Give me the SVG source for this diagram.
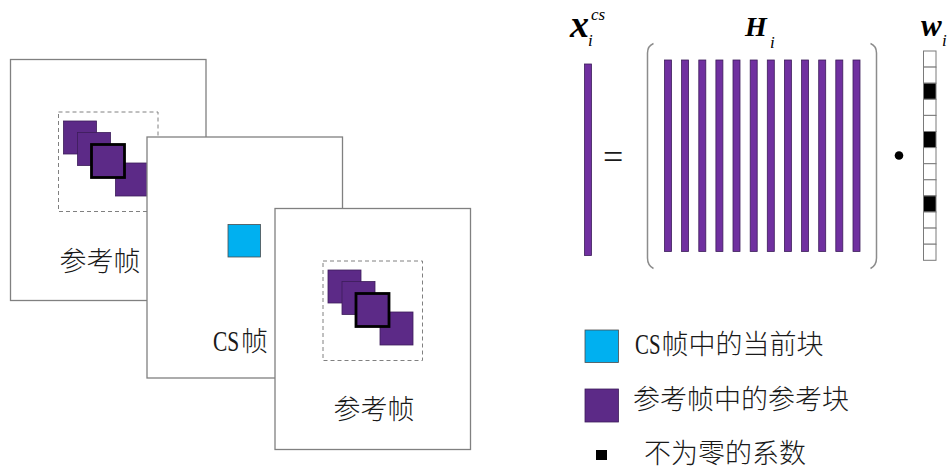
<svg xmlns="http://www.w3.org/2000/svg" width="948" height="469" viewBox="0 0 948 469">
  <style>
    .frame { fill: #ffffff; stroke: #808080; stroke-width: 1.3; }
    .search { fill: none; stroke: #808080; stroke-width: 1; stroke-dasharray: 4 3; }
    .blk { fill: #5C2A87; stroke: #3c1d5a; stroke-width: 0.8; }
    .blk-cur { fill: #5C2A87; stroke: #000000; stroke-width: 2.8; }
    .cs-blk { fill: #00B0F0; stroke: #4d4d4d; stroke-width: 0.8; }
    .col { fill: #7030A0; stroke: #3c1d5a; stroke-width: 0.8; }
    .cell { fill: #ffffff; stroke: #7a7a7a; stroke-width: 1; }
    .cell-on { fill: #000000; stroke: #7a7a7a; stroke-width: 1; }
    .paren { fill: none; stroke: #8c8c8c; stroke-width: 1.5; }
    .cjk { font-family: "Noto Sans CJK SC", "Liberation Serif", sans-serif; font-size: 27px; font-weight: 300; fill: #1a1a1a; }
    .lat { font-family: "Liberation Serif", serif; font-size: 29px; fill: #1a1a1a; }
    .eq { font-family: "Liberation Serif", serif; font-size: 36px; fill: #1a1a1a; }
    .math { font-family: "Liberation Serif", serif; font-style: italic; fill: #000000; }
    .bold { font-weight: bold; }
  </style>
  <defs>
    <!-- reference frame with search window and candidate blocks -->
    <g id="refFrameBody">
      <rect class="frame" x="10.5" y="59.5" width="195.5" height="241"/>
      <rect class="search" x="58.5" y="112" width="99.5" height="99.5"/>
      <rect class="blk" x="63.5" y="121" width="33" height="33"/>
      <rect class="blk" x="77.5" y="132.5" width="33" height="33"/>
      <rect class="blk" x="115.5" y="163" width="33" height="33"/>
      <rect class="blk-cur" x="91.5" y="144.5" width="33" height="33"/>
    </g>
  </defs>

  <!-- left: frame stack -->
  <g id="ref-frame-1">
    <use href="#refFrameBody"/>
    <text class="cjk" x="100" y="271" text-anchor="middle">参考帧</text>
  </g>

  <g id="cs-frame">
    <rect class="frame" x="147" y="137" width="195.5" height="241"/>
    <rect class="cs-blk" x="228" y="224.5" width="32.5" height="32.5"/>
    <!-- condensed serif "CS" followed by the CJK glyph -->
    <text class="lat" transform="translate(213 351) scale(0.74 1)">CS</text>
    <text class="cjk" x="241" y="351">帧</text>
  </g>

  <g id="ref-frame-2">
    <use href="#refFrameBody" transform="translate(264.5 149)"/>
    <text class="cjk" x="374" y="419" text-anchor="middle">参考帧</text>
  </g>

  <!-- right: x_i^cs = H_i · w_i -->
  <g id="vec-x">
    <rect class="col" x="584.5" y="64" width="7" height="191.5"/>
    <text class="math bold" x="570" y="37" font-size="38">x</text>
    <text class="math" x="588" y="46" font-size="17">i</text>
    <text class="math" x="591" y="20" font-size="17">cs</text>
  </g>

  <g id="equals">
    <text class="eq" x="603" y="169">=</text>
  </g>

  <g id="matrix-H">
    <path class="paren" d="M653.5,43.5 Q647.5,46 647.5,53 L647.5,258 Q647.5,265.5 653.5,268.5"/>
    <path class="paren" d="M870.5,43.5 Q876.5,46 876.5,53 L876.5,258 Q876.5,265.5 870.5,268.5"/>
    <rect class="col" x="664.5" y="60" width="7" height="191.5"/>
    <rect class="col" x="681.6" y="60" width="7" height="191.5"/>
    <rect class="col" x="698.8" y="60" width="7" height="191.5"/>
    <rect class="col" x="715.9" y="60" width="7" height="191.5"/>
    <rect class="col" x="733" y="60" width="7" height="191.5"/>
    <rect class="col" x="750.2" y="60" width="7" height="191.5"/>
    <rect class="col" x="767.3" y="60" width="7" height="191.5"/>
    <rect class="col" x="784.4" y="60" width="7" height="191.5"/>
    <rect class="col" x="801.6" y="60" width="7" height="191.5"/>
    <rect class="col" x="818.7" y="60" width="7" height="191.5"/>
    <rect class="col" x="835.8" y="60" width="7" height="191.5"/>
    <rect class="col" x="853" y="60" width="7" height="191.5"/>
    <text class="math bold" x="745" y="36" font-size="28">H</text>
    <text class="math" x="770" y="48" font-size="17">i</text>
  </g>

  <g id="dot">
    <circle cx="899" cy="155.5" r="4.3" fill="#000000"/>
  </g>

  <g id="vec-w">
    <rect class="cell" x="923.5" y="51" width="12.5" height="16.1"/>
    <rect class="cell" x="923.5" y="67.1" width="12.5" height="16.1"/>
    <rect class="cell-on" x="923.5" y="83.2" width="12.5" height="16.1"/>
    <rect class="cell" x="923.5" y="99.3" width="12.5" height="16.1"/>
    <rect class="cell" x="923.5" y="115.4" width="12.5" height="16.1"/>
    <rect class="cell-on" x="923.5" y="131.5" width="12.5" height="16.1"/>
    <rect class="cell" x="923.5" y="147.6" width="12.5" height="16.1"/>
    <rect class="cell" x="923.5" y="163.7" width="12.5" height="16.1"/>
    <rect class="cell" x="923.5" y="179.8" width="12.5" height="16.1"/>
    <rect class="cell-on" x="923.5" y="195.9" width="12.5" height="16.1"/>
    <rect class="cell" x="923.5" y="212" width="12.5" height="16.1"/>
    <rect class="cell" x="923.5" y="228.1" width="12.5" height="16.1"/>
    <rect class="cell" x="923.5" y="244.2" width="12.5" height="16.1"/>
    <text class="math bold" x="921" y="36" font-size="31">w</text>
    <text class="math" x="942" y="46" font-size="17">i</text>
  </g>

  <!-- legend -->
  <g id="legend">
    <rect class="cs-blk" x="585" y="330" width="33.5" height="32.5"/>
    <text class="lat" transform="translate(635 354) scale(0.72 1)">CS</text>
    <text class="cjk" x="661.5" y="354" font-size="29">帧中的当前块</text>
    <rect class="blk" x="585" y="389" width="33.5" height="33"/>
    <text class="cjk" x="633" y="409" font-size="28">参考帧中的参考块</text>
    <rect x="596" y="450" width="11" height="10" fill="#000000"/>
    <text class="cjk" x="644" y="462.5" font-size="28">不为零的系数</text>
  </g>
</svg>
